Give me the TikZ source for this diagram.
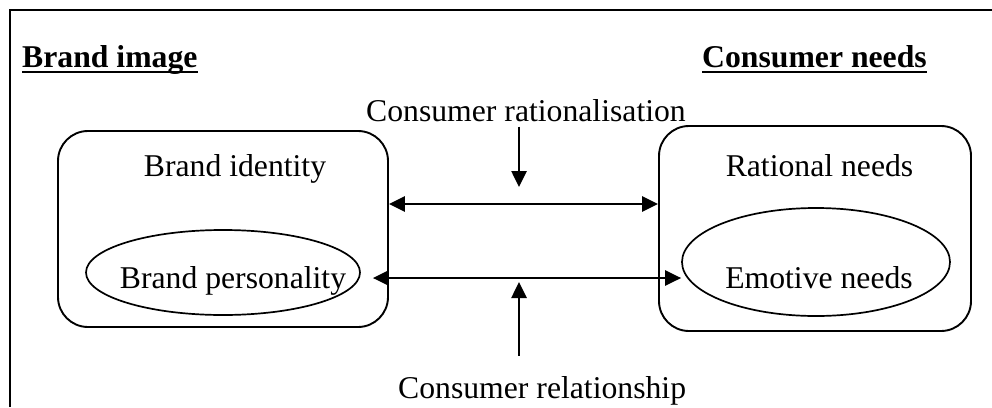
\documentclass[tikz,border=0pt]{standalone}
\usepackage{fontspec}
\setmainfont{Liberation Serif}
\usepackage{tikz}
\usetikzlibrary{arrows.meta, positioning, shapes.geometric}

\begin{document}
\begin{tikzpicture}[x=1pt, y=-1pt,
    every node/.style={inner sep=0pt, font=\fontsize{31.7}{38}\selectfont},
    box/.style={draw, rounded corners=30pt, line width=1.9pt},
    trait/.style={draw, ellipse, line width=1.7pt},
    link/.style={line width=2.6pt, -{Triangle[length=16pt, width=15pt]}},
    uline/.style={line width=2.2pt}]
    \useasboundingbox (0,0) rectangle (992,407);

    % Frame
    \draw[line width=2.4pt] (10,407) -- (10,10) -- (992,10);

    % Headings
    \node[anchor=base west, font=\fontsize{31.7}{38}\selectfont\bfseries] (bimg) at (22,67) {Brand image\ };
    \node[anchor=base west, font=\fontsize{31.7}{38}\selectfont\bfseries] (cneeds) at (702,67) {Consumer needs};
    \draw[uline] ([yshift=-5pt]bimg.base west) -- ([yshift=-5pt]bimg.base east);
    \draw[uline] ([yshift=-5pt]cneeds.base west) -- ([yshift=-5pt]cneeds.base east);

    % Brand image side
    \node[box, minimum width=330pt, minimum height=196pt] (ident) at (223,229) {};
    \node[anchor=base] (identtxt) at (235,176) {Brand identity};
    \node[trait, minimum width=274pt, minimum height=85pt] (pers) at (223,272.5) {};
    \node[anchor=base] (perstxt) at (233,288) {Brand personality};

    % Consumer needs side
    \node[box, minimum width=312pt, minimum height=205pt] (ratn) at (815,228.5) {};
    \node[anchor=base] (ratntxt) at (819.5,176) {Rational needs};
    \node[trait, minimum width=268pt, minimum height=108pt] (emo) at (816,262) {};
    \node[anchor=base] (emotxt) at (819,288) {Emotive needs};

    % Consumer rationalisation
    \node[anchor=base west] (crat) at (366,121) {Consumer rationalisation};
    \coordinate (ratin) at (519,187);
    \coordinate (ratrow) at (519,204);
    \draw[link] (ratin |- crat.south) ++(0,5) -- (ratin);
    \draw[link, {Triangle[length=16pt, width=15pt]}-{Triangle[length=16pt, width=15pt]}]
        (ident.east |- ratrow) -- (ratn.west |- ratrow);

    % Consumer relationship
    \node[anchor=base west] (crel) at (398,398) {Consumer relationship};
    \coordinate (relin) at (519,282);
    \coordinate (relrow) at (519,278);
    \draw[link] (relin |- crel.north) ++(0,-20) -- (relin);
    \draw[link, {Triangle[length=16pt, width=15pt]}-{Triangle[length=16pt, width=15pt]}]
        ([xshift=12pt]pers.east |- relrow) -- (emo.west |- relrow);
\end{tikzpicture}
\end{document}
